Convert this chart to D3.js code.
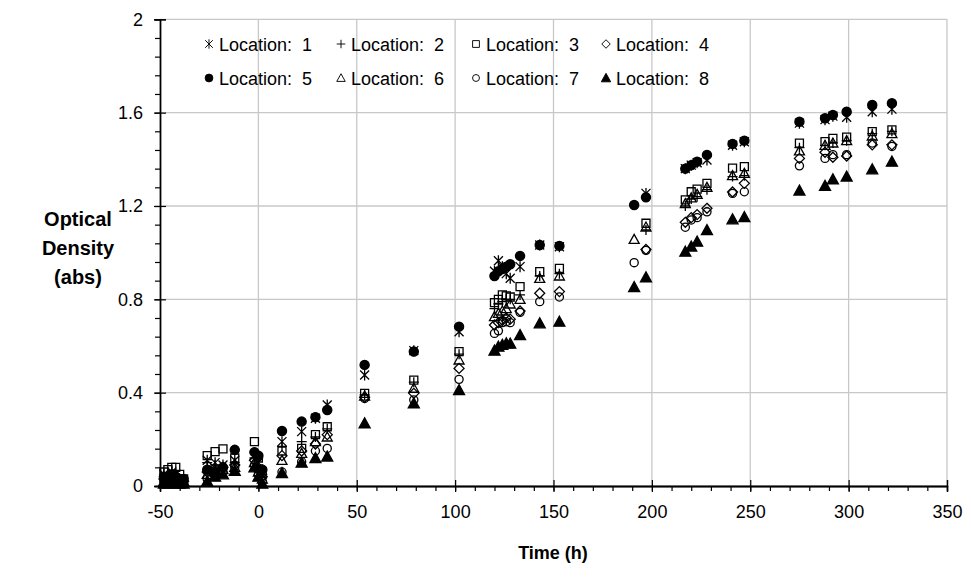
<!DOCTYPE html>
<html>
<head>
<meta charset="utf-8">
<script src="https://cdn.jsdelivr.net/npm/d3@7"></script>
<style>
  html, body { margin: 0; padding: 0; background: #fff; }
  svg { display: block; font-family: "Liberation Sans", Arial, sans-serif; }
  .leg text { white-space: pre; }
</style>
</head>
<body>
<svg id="chart" width="971" height="578"></svg>
<script>
// ── data ────────────────────────────────────
const times = [-48, -46, -44, -42, -40, -38, -26, -22, -18, -12, -2, 0, 2,
  12, 22, 29, 35, 54, 79, 102, 120, 122, 124, 126, 128, 133, 143, 153, 191, 197,
  217, 220, 223, 228, 241, 247, 275, 288, 292, 299, 312, 322];

const loc1 = [0.05, 0.04, 0.06, 0.05, 0.03, 0.02, 0.11, 0.10, 0.09, 0.11, 0.13, 0.10, 0.05,
  0.19, 0.233, 0.29, 0.347, 0.476, 0.58, 0.661, 0.92, 0.965, 0.94, 0.91, 0.89, 0.94,
  1.033, 1.025, null, 1.254, 1.36, 1.375, 1.385, 1.397, 1.46, 1.475, 1.555, 1.57, 1.585, 1.58, 1.604, 1.615];
const loc2 = [0.04, 0.05, 0.05, 0.04, 0.03, 0.02, 0.10, 0.09, 0.08, 0.10, 0.12, 0.09, 0.05,
  0.17, 0.19, 0.21, 0.245, 0.39, 0.445, 0.565, 0.76, 0.78, 0.79, 0.80, 0.80, 0.819,
  0.90, 0.91, null, 1.097, 1.20, 1.23, 1.24, 1.27, 1.326, 1.33, 1.45, 1.46, 1.47, 1.48, 1.51, 1.52];
const loc3 = [0.06, 0.07, 0.08, 0.08, 0.05, 0.03, 0.13, 0.147, 0.159, 0.12, 0.19, 0.12, 0.06,
  0.15, 0.161, 0.22, 0.254, 0.397, 0.454, 0.576, 0.786, 0.80, 0.819, 0.815, 0.81, 0.854,
  0.919, 0.933, null, 1.126, 1.226, 1.261, 1.272, 1.297, 1.362, 1.369, 1.469, 1.476, 1.49, 1.495, 1.519, 1.526];
const loc4 = [0.03, 0.04, 0.04, 0.03, 0.02, 0.02, 0.06, 0.07, 0.08, 0.09, 0.11, 0.07, 0.04,
  0.13, 0.15, 0.18, 0.22, 0.38, 0.397, 0.504, 0.69, 0.70, 0.71, 0.72, 0.715, 0.75,
  0.826, 0.833, null, 1.014, 1.13, 1.15, 1.163, 1.19, 1.26, 1.297, 1.404, 1.43, 1.409, 1.414, 1.462, 1.462];
const loc5 = [0.04, 0.03, 0.05, 0.04, 0.03, 0.03, 0.07, 0.06, 0.08, 0.155, 0.145, 0.13, 0.07,
  0.236, 0.276, 0.295, 0.326, 0.519, 0.576, 0.683, 0.90, 0.92, 0.93, 0.94, 0.95, 0.986,
  1.033, 1.029, 1.204, 1.237, 1.36, 1.375, 1.39, 1.419, 1.466, 1.48, 1.561, 1.576, 1.59, 1.604, 1.633, 1.64];
const loc6 = [0.02, 0.03, 0.03, 0.02, 0.02, 0.02, 0.05, 0.06, 0.07, 0.08, 0.10, 0.06, 0.03,
  0.11, 0.14, 0.19, 0.21, 0.385, 0.419, 0.54, 0.726, 0.74, 0.75, 0.76, 0.78, 0.80,
  0.89, 0.90, 1.057, 1.11, 1.21, 1.235, 1.25, 1.28, 1.33, 1.34, 1.436, 1.46, 1.47, 1.48, 1.50, 1.51];
const loc7 = [0.02, 0.02, 0.02, 0.02, 0.02, 0.01, 0.03, 0.05, 0.06, 0.08, 0.09, 0.05, 0.02,
  0.06, 0.104, 0.15, 0.161, 0.375, 0.369, 0.457, 0.654, 0.665, 0.70, 0.704, 0.70, 0.744,
  0.79, 0.81, 0.957, 1.01, 1.109, 1.14, 1.15, 1.175, 1.254, 1.261, 1.372, 1.404, 1.42, 1.42, 1.47, 1.455];
const loc8 = [0.01, 0.01, 0.02, 0.01, 0.01, 0.01, 0.02, 0.04, 0.05, 0.065, 0.08, 0.04, 0.01,
  0.055, 0.10, 0.12, 0.126, 0.269, 0.354, 0.411, 0.58, 0.597, 0.605, 0.611, 0.61, 0.647,
  0.697, 0.704, 0.852, 0.894, 1.004, 1.026, 1.047, 1.097, 1.143, 1.152, 1.266, 1.286, 1.314, 1.326, 1.357, 1.39];

const seriesNames = ["Location:  1", "Location:  2", "Location:  3", "Location:  4",
                     "Location:  5", "Location:  6", "Location:  7", "Location:  8"];
const seriesValues = [loc1, loc2, loc3, loc4, loc5, loc6, loc7, loc8];
const xTicks = [-50, 0, 50, 100, 150, 200, 250, 300, 350];
const yTicks = [0, 0.4, 0.8, 1.2, 1.6, 2];

// ── marker shapes (Excel-like) ───────────────
const MARKERS = [
  { d: "M-4.5,-4.5L4.5,4.5M-4.5,4.5L4.5,-4.5M0,-5.5V5.5", fill: "none", stroke: "#000" }, // star
  { d: "M-5,0H5M0,-5V5",             fill: "none", stroke: "#000" },          // plus
  { d: "M-4,-4H4V4H-4Z",             fill: "none", stroke: "#000" },          // square
  { d: "M0,-5L5,0L0,5L-5,0Z",        fill: "none", stroke: "#000" },          // diamond
  { d: d3.symbol(d3.symbolCircle, 66)(), fill: "#000", stroke: "#000" },       // filled circle
  { d: "M0,-5L5,4H-5Z",              fill: "none", stroke: "#000" },          // triangle
  { d: d3.symbol(d3.symbolCircle, 52)(), fill: "none", stroke: "#000" },       // circle
  { d: "M0,-5.5L5.5,4.5H-5.5Z",      fill: "#000", stroke: "#000" },          // filled triangle
];

// ── layout ───────────────────────────────────
const svg = d3.select("#chart");
const x = d3.scaleLinear().domain([-50, 350]).range([160, 947]);
const y = d3.scaleLinear().domain([0, 2]).range([486, 19.3]);

// gridlines
svg.append("g").selectAll("line").data(xTicks.slice(1)).join("line")
  .attr("x1", d => x(d)).attr("x2", d => x(d))
  .attr("y1", y(0)).attr("y2", y(2))
  .attr("stroke", "#c8c8c8").attr("stroke-width", 1.3);
svg.append("g").selectAll("line").data(yTicks.slice(1)).join("line")
  .attr("x1", x(-50)).attr("x2", x(350))
  .attr("y1", d => y(d)).attr("y2", d => y(d))
  .attr("stroke", "#c8c8c8").attr("stroke-width", 1.3);

// axes: minor ticks outside, major ticks crossing
const xMinor = d3.range(-50, 351, 10);
const yMinor = d3.range(0, 2.001, 0.08);

const xAxisG = svg.append("g").attr("transform", `translate(0,${y(0)})`);
xAxisG.append("g").call(d3.axisBottom(x).tickValues(xMinor).tickSize(5).tickFormat(""));
xAxisG.append("g").call(d3.axisBottom(x).tickValues(xTicks).tickSize(-6).tickFormat(""));
xAxisG.append("g").call(d3.axisBottom(x).tickValues(xTicks).tickSize(6).tickPadding(13)
  .tickFormat(d => String(d)));

const yAxisG = svg.append("g").attr("transform", `translate(${x(-50)},0)`);
yAxisG.append("g").call(d3.axisLeft(y).tickValues(yMinor).tickSize(5).tickFormat(""));
yAxisG.append("g").call(d3.axisLeft(y).tickValues(yTicks).tickSize(-6).tickFormat(""));
yAxisG.append("g").call(d3.axisLeft(y).tickValues(yTicks).tickSize(6).tickPadding(11)
  .tickFormat(d => d === 0 || d === 2 ? String(d) : d.toFixed(1)));

svg.selectAll(".domain").attr("stroke", "#000").attr("stroke-width", 1.3);
svg.selectAll(".tick line").attr("stroke", "#000").attr("stroke-width", 1.2);
svg.selectAll(".tick text").attr("font-size", 18).attr("fill", "#000")
  .attr("font-family", "'Liberation Sans', Arial, sans-serif");

// axis titles
svg.append("text")
  .attr("x", 553).attr("y", 559)
  .attr("text-anchor", "middle").attr("font-size", 18).attr("font-weight", "bold")
  .text("Time (h)");

const yTitle = svg.append("text")
  .attr("text-anchor", "middle").attr("font-size", 20).attr("font-weight", "bold");
["Optical", "Density", "(abs)"].forEach((t, i) => {
  yTitle.append("tspan").attr("x", 78).attr("y", 226 + i * 29).text(t);
});

// ── points ───────────────────────────────────
seriesValues.forEach((vals, s) => {
  const m = MARKERS[s];
  const pts = times.map((t, i) => ({ t, v: vals[i] })).filter(d => d.v != null);
  svg.append("g").selectAll("path").data(pts).join("path")
    .attr("transform", d => `translate(${x(d.t)},${y(d.v)})`)
    .attr("d", m.d)
    .attr("fill", m.fill)
    .attr("stroke", m.stroke)
    .attr("stroke-width", 1.3);
});

// ── legend ───────────────────────────────────
const legX = [209, 341, 476, 606];
const legY = [44, 78];
seriesNames.forEach((name, s) => {
  const g = svg.append("g").attr("class", "leg")
    .attr("transform", `translate(${legX[s % 4]},${legY[Math.floor(s / 4)]})`);
  const m = MARKERS[s];
  g.append("path").attr("d", m.d).attr("fill", m.fill).attr("stroke", m.stroke)
    .attr("stroke-width", 1.1).attr("transform", "scale(0.85)");
  g.append("text").attr("x", 10).attr("y", 6.5)
    .attr("font-size", 18).text(name);
});
</script>
</body>
</html>
